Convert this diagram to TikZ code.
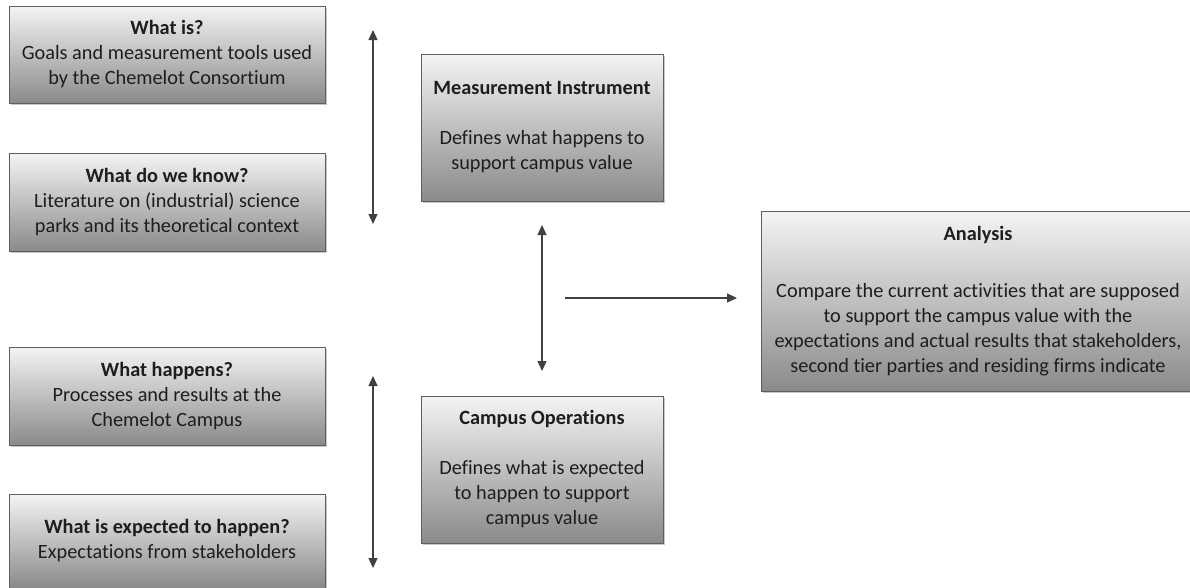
\documentclass[tikz,border=0pt]{standalone}
\usepackage{fontspec}
\setmainfont{Carlito}[Ligatures={NoCommon}]
\usetikzlibrary{arrows.meta,shadows}
\definecolor{edgec}{HTML}{5E5E5E}
\definecolor{arrc}{HTML}{404040}
\definecolor{boxtop}{HTML}{F4F4F4}
\definecolor{boxbot}{HTML}{8A8A8A}
\definecolor{txtc}{HTML}{1E1E1E}
\tikzset{
  box/.style={draw=edgec, line width=0.9pt, top color=boxtop, bottom color=boxbot,
    drop shadow={shadow xshift=1.6pt, shadow yshift=-1.6pt, fill=black, opacity=0.22},
    inner sep=0pt, align=center, text=txtc,
    font=\fontsize{20.3}{25}\selectfont},
  link/.style={draw=arrc, line width=1.3pt},
  tip/.style={-{Triangle[width=9pt,length=10pt]}},
  tips/.style={{Triangle[width=9pt,length=10pt]}-{Triangle[width=9pt,length=10pt]}}
}
\begin{document}
\begin{tikzpicture}[x=1pt,y=-1pt]
\useasboundingbox (0,0) rectangle (1190,587);
\clip (0,0) rectangle (1190,587);
\node[box, minimum width=316pt, minimum height=97pt] (whatis) at (167,54.5)
  {\textbf{What is?}\\Goals and measurement tools used\\by the Chemelot Consortium};
\node[box, minimum width=316pt, minimum height=98pt] (whatknow) at (167,202)
  {\textbf{What do we know?}\\Literature on (industrial) science\\parks and its theoretical context};
\node[box, minimum width=316pt, minimum height=98pt] (whathap) at (167,396)
  {\textbf{What happens?}\\Processes and results at the\\Chemelot Campus};
\node[box, minimum width=316pt, minimum height=94pt] (whatexp) at (167,541)
  {\textbf{What is expected to happen?}\\Expectations from stakeholders};
\node[box, minimum width=242pt, minimum height=147pt] (meas) at (542,127.5)
  {\textbf{Measurement Instrument}\\[25pt]Defines what happens to\\support campus value};
\node[box, minimum width=242pt, minimum height=147pt] (ops) at (542,469.5)
  {\textbf{Campus Operations}\\[25pt]Defines what is expected\\to happen to support\\campus value};
\node[box, minimum width=434pt, minimum height=180pt] (analysis) at (978,301.5)
  {\textbf{Analysis}\\[32pt]Compare the current activities that are supposed\\to support the campus value with the\\expectations and actual results that stakeholders,\\second tier parties and residing firms indicate};
\coordinate (a1) at (373,30);
\coordinate (a2) at (373,224);
\coordinate (b1) at (373,376);
\coordinate (b2) at (373,568);
\coordinate (m1) at (542,225);
\coordinate (m2) at (542,371);
\coordinate (h1) at (565,298);
\coordinate (h2) at (737,298);
\draw[link, tips] (a1) -- (a2);
\draw[link, tips] (b1) -- (b2);
\draw[link, tips] (m1) -- (m2);
\draw[link, tip] (h1) -- (h2);
\end{tikzpicture}
\end{document}
